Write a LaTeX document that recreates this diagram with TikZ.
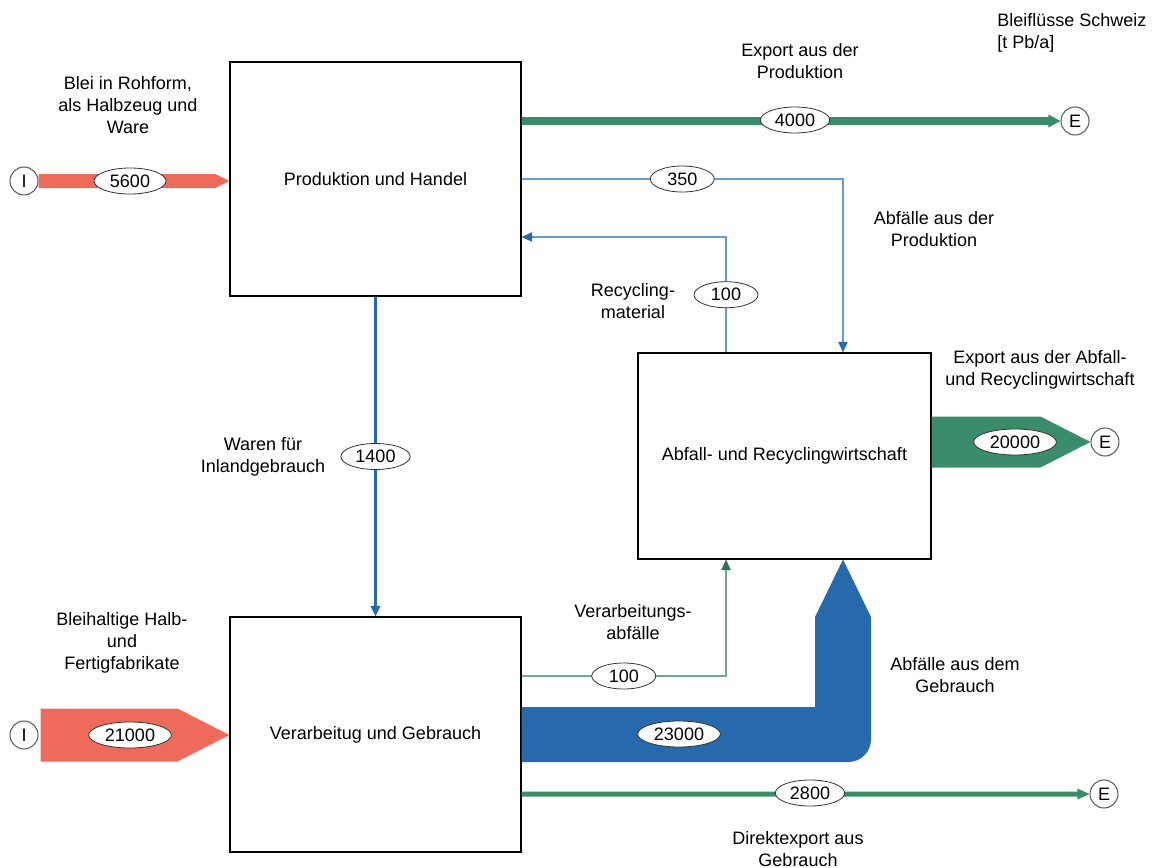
\documentclass[tikz,border=0pt]{standalone}
\usepackage{fontspec}
\setmainfont{Liberation Sans}
\usetikzlibrary{shapes.geometric,calc,arrows.meta}
\definecolor{bleirot}{RGB}{238,106,90}
\definecolor{bleigruen}{RGB}{58,140,106}
\definecolor{bleiblau}{RGB}{38,105,172}
\definecolor{hellblau}{RGB}{105,155,208}
\definecolor{hellgruen}{RGB}{112,168,152}
\definecolor{dunkelgruen}{RGB}{40,112,86}
\definecolor{randgrau}{RGB}{95,95,95}
\begin{document}
\begin{tikzpicture}[x=0.75pt,y=-0.75pt,font=\fontsize{13.5}{16.5}\selectfont,
  prozess/.style={draw,rectangle,line width=0.8pt},
  ende/.style={draw=randgrau,circle,fill=white,line width=0.8pt,minimum size=21pt,inner sep=0pt},
  wert/.style={draw=black!80,text=black,ellipse,fill=white,line width=0.6pt,inner sep=0pt,minimum height=19.5pt,minimum width=#1},
  wert/.default=48pt,
  beschrift/.style={align=center,inner sep=0pt},
  duennblau/.style={draw=hellblau,line width=1pt,-{Triangle[length=8pt,width=7pt,color=bleiblau]}},
  duenngruen/.style={draw=hellgruen,line width=1pt,-{Triangle[length=8pt,width=7pt,color=dunkelgruen]}}]
            \useasboundingbox (0,0) rectangle (1154,868);
            \node[prozess,minimum width=218.25pt,minimum height=175.5pt] (prod) at (375.5,179) {Produktion und Handel};
            \node[prozess,minimum width=219.75pt,minimum height=154.5pt] (abfall) at (784.5,456) {Abfall- und Recyclingwirtschaft};
            \node[prozess,minimum width=218.25pt,minimum height=176.25pt] (verarb) at (375.5,734.5) {Verarbeitug und Gebrauch};
            \node[ende] (i1) at (24,181) {I};
            \node[ende] (i2) at (24,735) {I};
            \node[ende] (e1) at (1075,121) {E};
            \node[ende] (e2) at (1105,442) {E};
            \node[ende] (e3) at (1104,794) {E};
            % Importe
            \fill[bleirot] ($(i1.east)+(0,-7)$) -- ($(prod.west |- i1)+(-14,-7)$) -- (prod.west |- i1) -- ($(prod.west |- i1)+(-14,7)$) -- ($(i1.east)+(0,7)$) -- cycle;
            \fill[bleirot] ($(i2.east)+(2,-26.5)$) -- ($(verarb.west |- i2)+(-52,-26.5)$) -- (verarb.west |- i2) -- ($(verarb.west |- i2)+(-52,26.5)$) -- ($(i2.east)+(2,26.5)$) -- cycle;
            % Exporte
            \fill[bleigruen] ($(prod.east |- e1)+(0,-4)$) -- ($(e1.west)+(-12,-4)$) -- ($(e1.west)+(-12,-6.5)$) -- (e1.west) -- ($(e1.west)+(-12,6.5)$) -- ($(e1.west)+(-12,4)$) -- ($(prod.east |- e1)+(0,4)$) -- cycle;
            \fill[bleigruen] ($(abfall.east |- e2)+(0,-25.5)$) -- ($(e2.west)+(-50,-25.5)$) -- (e2.west) -- ($(e2.west)+(-50,25.5)$) -- ($(abfall.east |- e2)+(0,25.5)$) -- cycle;
            \fill[bleigruen] ($(verarb.east |- e3)+(0,-2.5)$) -- ($(e3.west)+(-12,-2.5)$) -- ($(e3.west)+(-12,-5.5)$) -- (e3.west) -- ($(e3.west)+(-12,5.5)$) -- ($(e3.west)+(-12,2.5)$) -- ($(verarb.east |- e3)+(0,2.5)$) -- cycle;
            % Abfaelle aus dem Gebrauch
            \fill[bleiblau] ($(verarb.east)+(0,-27.5)$) -- (815,707) -- (815,617) -- ($(abfall.south)+(58.5,0)$) -- (871,617) -- (871,700) [rounded corners=17pt] -- (871,762) [sharp corners] -- ($(verarb.east)+(0,27.5)$) -- cycle;
            % duenne Fluesse
            \draw[duennblau] (prod.east) -| ($(abfall.north)+(58.5,0)$) node[wert,pos=0.25] (w350) {350};
            \draw[duennblau] ($(abfall.north)+(-58.5,0)$) |- ($(prod.east)+(0,58)$) node[wert,pos=0.25] (w100a) {100};
            \draw[duenngruen] ($(verarb.east)+(0,-58.5)$) -| ($(abfall.south)+(-58.5,0)$) node[wert,pos=0.25] (w100b) {100};
            \draw[bleiblau,line width=2.2pt,-{Triangle[length=8pt,width=7pt]}] (prod.south) -- (verarb.north) node[wert=52pt,midway] (w1400) {1400};
            % Werte
            \node[wert=54pt] (w5600) at (130,181) {5600};
            \node[wert=62pt] (w21000) at (130,735) {21000};
            \node[wert=52pt] (w4000) at (795,120) {4000};
            \node[wert=62pt] (w20000) at (1015,442) {20000};
            \node[wert=62pt] (w23000) at (679,734) {23000};
            \node[wert=52pt] (w2800) at (810,793) {2800};
            % Beschriftungen
            \node[beschrift] (tRoh) at (128,105) {Blei in Rohform,\\als Halbzeug und\\Ware};
            \node[beschrift] (tExpProd) at (800,61) {Export aus der\\Produktion};
            \node[beschrift,align=left,anchor=west] (tTitel) at (997,33) {Bleiflüsse Schweiz\\{}[t Pb/a]};
            \node[beschrift] (tAbfProd) at (934,229) {Abfälle aus der\\Produktion};
            \node[beschrift] (tRecy) at (633,301) {Recycling-\\material};
            \node[beschrift] (tExpAbf) at (1040,370) {Export aus der Abfall-\\und Recyclingwirtschaft};
            \node[beschrift] (tWaren) at (263,457) {Waren für\\Inlandgebrauch};
            \node[beschrift] (tHalb) at (122,643) {Bleihaltige Halb-\\und\\Fertigfabrikate};
            \node[beschrift] (tVerarb) at (633,622) {Verarbeitungs-\\abfälle};
            \node[beschrift] (tAbfGebr) at (955,675) {Abfälle aus dem\\Gebrauch};
            \node[beschrift] (tDirekt) at (798,849) {Direktexport aus\\Gebrauch};
        \end{tikzpicture}
\end{document}
